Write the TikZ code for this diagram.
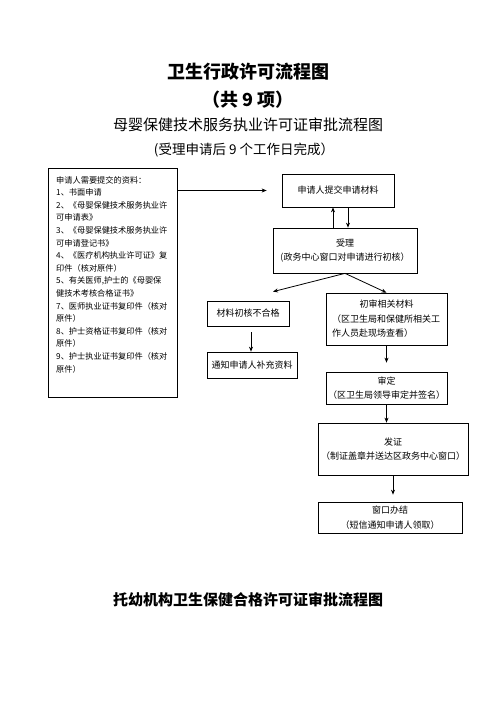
\documentclass[tikz,border=0pt]{standalone}
\usepackage{fontspec}
\newfontfamily\cjk{Noto Sans CJK SC}
\usetikzlibrary{arrows.meta,positioning,calc}

\begin{document}
\begin{tikzpicture}[x=1pt,y=-1pt,
  box/.style={draw, line width=0.7pt, align=center, inner sep=2pt, font=\cjk\fontsize{9}{14.5}\selectfont},
  arr/.style={-{Stealth[length=5pt,width=4pt]}, line width=0.8pt}]
\useasboundingbox (0,0) rectangle (496,702);
% titles
\node[font=\cjk\bfseries\fontsize{18}{20}\selectfont] (title) at (248,72) {卫生行政许可流程图};
\node[font=\cjk\bfseries\fontsize{18}{20}\selectfont] (count) at (248,100) {（共 9 项）};
\node[font=\cjk\fontsize{15}{17}\selectfont] (subtitle) at (248,125) {母婴保健技术服务执业许可证审批流程图};
\node[font=\cjk\fontsize{13.5}{15}\selectfont] (days) at (244,150) {(受理申请后 9 个工作日完成）};
% materials list
\node[draw, line width=0.7pt, minimum width=129pt, minimum height=229pt, anchor=north west] (docs) at (48,168) {};
\node[anchor=north west, inner sep=0pt, align=left, font=\cjk\fontsize{8.2}{12.6}\selectfont] (doclist) at (56,176)
{申请人需要提交的资料：\\1、书面申请\\2、《母婴保健技术服务执业许\\可申请表》\\3、《母婴保健技术服务执业许\\可申请登记书》\\4、《医疗机构执业许可证》复\\印件（核对原件）\\5、有关医师,护士的《母婴保\\健技术考核合格证书》\\7、医师执业证书复印件（核对\\原件）\\8、护士资格证书复印件（核对\\原件）\\9、护士执业证书复印件（核对\\原件）};
% flow boxes
\node[box, minimum width=112pt, minimum height=33pt] (apply) at (338,190.5) {申请人提交申请材料};
\node[box, minimum width=144pt, minimum height=45pt] (accept) at (345,250.5) {受理\\(政务中心窗口对申请进行初核）};
\node[box, minimum width=82pt, minimum height=25pt] (fail) at (248,313.5) {材料初核不合格};
\node[box, minimum width=90pt, minimum height=26pt] (notify) at (252,365) {通知申请人补充资料};
\node[box, minimum width=121pt, minimum height=52pt, text width=109pt, align=left] (review) at (386.5,319)
{\makebox[109pt]{初审相关材料}\\（区卫生局和保健所相关工\\作人员赴现场查看）};
\node[box, minimum width=121pt, minimum height=32pt] (decide) at (386.5,388) {审定\\（区卫生局领导审定并签名）};
\node[box, minimum width=150pt, minimum height=52pt] (issue) at (393,449) {发证\\（制证盖章并送达区政务中心窗口）};
\node[box, minimum width=144pt, minimum height=31pt] (finish) at (390,517.5) {窗口办结\\（短信通知申请人领取）};
% arrows
\draw[arr] (docs.east |- apply.west) -- ([xshift=-15pt]apply.west);
\draw[arr] ([xshift=-12pt]accept.north) -- ([xshift=-5pt]apply.south);
\draw[arr] ([xshift=10pt]apply.south) -- ([xshift=3pt]accept.north);
\draw[arr] (accept.south) -- ([xshift=25pt,yshift=9pt]fail.north);
\draw[arr] (accept.south) -- (review.north);
\draw[arr] ([xshift=3pt,yshift=-6pt]fail.south) -- ([xshift=-1pt]notify.north);
\draw[arr, shorten >=9pt] (review.south) -- (decide.north);
\draw[arr] (decide.south) -- (decide.south |- issue.north);
\draw[arr, shorten >=7pt] (issue.south) -- (issue.south |- finish.north);
% next chart
\node[font=\cjk\bfseries\fontsize{15}{17}\selectfont] (title2) at (248,600) {托幼机构卫生保健合格许可证审批流程图};
\end{tikzpicture}
\end{document}
